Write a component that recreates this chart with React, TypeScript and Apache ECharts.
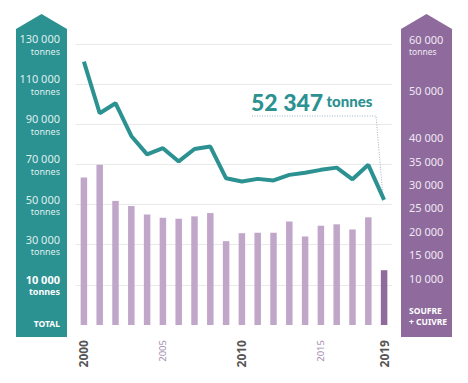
import React, { useEffect, useRef } from "react";
import * as echarts from "echarts";

const years = ["2000","2001","2002","2003","2004","2005","2006","2007","2008","2009","2010","2011","2012","2013","2014","2015","2016","2017","2018","2019"];
const totalTonnes = [121200, 95500, 100500, 84200, 75000, 78100, 71500, 77700, 78900, 63100, 61500, 62800, 62000, 64800, 65900, 67300, 68400, 62600, 69800, 52347];
const soufreCuivre = [31500, 34200, 26500, 25400, 23600, 22900, 22700, 23200, 23900, 17900, 19600, 19700, 19700, 22100, 18900, 21200, 21500, 20400, 23000, 11700];
const rightTicks = [0, 10000, 15000, 20000, 25000, 30000, 35000, 40000, 50000, 60000];
const boldYears = ["2000", "2010", "2019"];
const lightYears = ["2005", "2015"];
const lastValueLabel = "52 347";

const TEAL = "#2b9191";
const PURPLE = "#8e6a9d";
const LIGHT_PURPLE = "#c0a7c9";
const FONT = "'Noto Sans', sans-serif";

const fmt = (v: number) => String(v).replace(/\B(?=(\d{3})+(?!\d))/g, " ");

export default function App() {
  const ref = useRef<HTMLDivElement>(null);
  useEffect(() => {
    document.body.style.margin = "0";
    const chart = echarts.init(ref.current!, null, { renderer: "svg" });
    chart.setOption({
      animation: false,
      grid: { left: 76, right: 76, top: 44, bottom: 58, containLabel: false },
      xAxis: {
        type: "category",
        data: years,
        offset: 5,
        axisLine: { show: false },
        axisTick: { show: true, alignWithLabel: true, interval: 0, length: 5, lineStyle: { color: "#bdbdbd" } },
        axisLabel: {
          interval: 0,
          rotate: 90,
          margin: 10,
          fontFamily: FONT,
          formatter: (v: string) =>
            boldYears.includes(v) ? `{b|${v}}` : lightYears.includes(v) ? `{l|${v}}` : "",
          rich: {
            b: { fontSize: 12, fontWeight: "bold", color: "#555", fontFamily: FONT },
            l: { fontSize: 9.5, color: "#a48cb2", fontFamily: FONT },
          },
        },
      },
      yAxis: [
        {
          type: "value",
          position: "left",
          min: -10000,
          max: 130000,
          interval: 20000,
          axisLine: { show: false },
          axisTick: { show: false },
          splitLine: { show: true, showMinLine: false, lineStyle: { color: "#e9e9e9", width: 1.2 } },
          axisLabel: {
            margin: 16,
            align: "right",
            fontFamily: FONT,
            formatter: (v: number) => {
              if (v === -10000) return "{t|TOTAL}";
              if (v === 10000) return `{bb|${fmt(v)}}\n{bt|tonnes}`;
              return `{n|${fmt(v)}}\n{u|tonnes}`;
            },
            rich: {
              n: { fontSize: 11, color: "#dff0f0", fontFamily: FONT, lineHeight: 14, align: "right" },
              u: { fontSize: 9, color: "#dff0f0", fontFamily: FONT, lineHeight: 11, align: "right" },
              bb: { fontSize: 11, fontWeight: "bold", color: "#ffffff", fontFamily: FONT, lineHeight: 14, align: "right" },
              bt: { fontSize: 9, fontWeight: "bold", color: "#ffffff", fontFamily: FONT, lineHeight: 11, align: "right" },
              t: { fontSize: 8.5, fontWeight: "bold", color: "#ffffff", fontFamily: FONT, padding: [0, 0, 4, 0] },
            },
          },
        },
        {
          type: "value",
          position: "right",
          min: 0,
          max: 60000,
          axisLine: { show: false },
          axisTick: { show: false },
          splitLine: { show: false },
          axisLabel: {
            margin: 17,
            align: "left",
            customValues: rightTicks,
            fontFamily: FONT,
            formatter: (v: number) => {
              if (v === 0) return "{s|SOUFRE}\n{s|+ CUIVRE}\n{sp| }";
              if (v === 60000) return `{n|${fmt(v)}}\n{u|tonnes}`;
              return `{n|${fmt(v)}}`;
            },
            rich: {
              n: { fontSize: 11, color: "#f1e8f3", fontFamily: FONT, lineHeight: 14 },
              u: { fontSize: 8.5, color: "#f1e8f3", fontFamily: FONT, lineHeight: 10 },
              s: { fontSize: 8.5, fontWeight: "bold", color: "#ffffff", fontFamily: FONT, lineHeight: 11.5 },
              sp: { fontSize: 8, lineHeight: 18 },
            },
          },
        },
      ],
      series: [
        {
          type: "bar",
          yAxisIndex: 1,
          barWidth: 6.5,
          data: soufreCuivre.map((v, i) => ({
            value: v,
            itemStyle: { color: i === soufreCuivre.length - 1 ? PURPLE : LIGHT_PURPLE },
          })),
          z: 2,
        },
        {
          type: "line",
          yAxisIndex: 0,
          data: totalTonnes,
          symbol: "none",
          lineStyle: { color: TEAL, width: 4 },
          z: 3,
        },
      ],
    });

    const last = years.length - 1;
    const end = chart.convertToPixel({ seriesIndex: 1 }, [years[last], totalTonnes[last]]) as number[];
    chart.setOption({
      graphic: [
        { type: "polygon", z: -10, shape: { points: [[16, 337], [16, 29], [41.5, 14], [67, 29], [67, 337]] }, style: { fill: TEAL } },
        { type: "polygon", z: -10, shape: { points: [[401, 337], [401, 29], [426.5, 14], [452, 29], [452, 337]] }, style: { fill: PURPLE } },
        {
          type: "text",
          x: 251,
          y: 113,
          style: {
            text: `{n|${lastValueLabel}} {u|tonnes}`,
            verticalAlign: "bottom",
            rich: {
              n: { fontSize: 23, fontWeight: 900, fill: TEAL, fontFamily: "Lato, sans-serif" },
              u: { fontSize: 15, fontWeight: 900, fill: TEAL, fontFamily: "Lato, sans-serif", padding: [0, 0, 1, 0] },
            },
          },
        },
        {
          type: "polyline",
          shape: { points: [[252, 116], [376, 116], [end[0] - 1, end[1] - 2]] },
          style: { stroke: "#9fb4c4", lineWidth: 1, lineDash: [1, 1.5], fill: null },
        },
      ],
    });
    return () => chart.dispose();
  }, []);
  return <div ref={ref} style={{ width: 468, height: 383 }} />;
}
